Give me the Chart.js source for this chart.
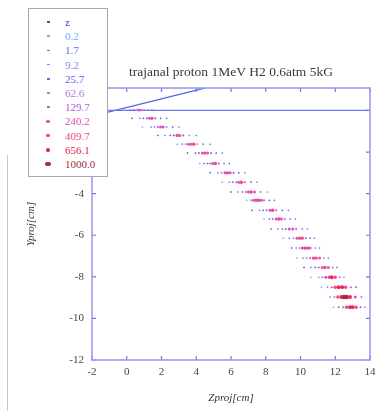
<!DOCTYPE html>
<html>
<head>
<meta charset="utf-8">
<script src="https://cdn.jsdelivr.net/npm/chart.js@4"></script>
<style>
  html, body { margin: 0; padding: 0; background: #fff; }
  #wrap { position: relative; width: 382px; height: 411px; }
  #edge { position: absolute; left: 7px; top: 155px; width: 1px; height: 256px; background: #c8c8c8; }
  #legend { position: absolute; left: 28px; top: 8px; width: 78px; height: 167px;
            border: 1.5px solid #a8a8a8; background: #fff;
            font-family: 'Liberation Serif', 'DejaVu Serif', serif; font-size: 11px; }
  .mk { position: absolute; }
  .tx { position: absolute; left: 36px; white-space: nowrap; line-height: 14px; height: 14px; }
</style>
</head>
<body>
<div id="wrap">
  <canvas id="c" width="382" height="411"></canvas>
  <div id="edge"></div>
  <div id="legend"></div>
</div>
<script>
// Energy-deposit bins (legend entries) and their colours
const binLabels = ['z', '0.2', '1.7', '9.2', '25.7', '62.6', '129.7', '240.2', '409.7', '656.1', '1000.0'];
const binColors = ['#4a4ab8', '#78a8ff', '#5a70f0', '#8a8ae8', '#7060e0', '#b478e8',
                   '#b060e0', '#e050c0', '#f04888', '#f0205a', '#a03040'];
const binRadius = [1.0, 1.0, 1.0, 1.1, 1.1, 1.2, 1.3, 1.5, 1.7, 1.9, 2.2];

// Projected track hits: one row per Y slice
const rowY = [0.02, -0.38, -0.8, -1.2, -1.62, -2.05, -2.55, -3.0, -3.45, -3.92, -4.32,
              -4.8, -5.22, -5.7, -6.14, -6.62, -7.1, -7.55, -8.02, -8.5, -8.97, -9.46];
const rowZ = [
  [-0.1, 0.2, 0.4, 0.55, 0.7, 0.85, 1.0, 1.2, 1.45],
  [0.3, 0.75, 0.95, 1.15, 1.3, 1.45, 1.65, 1.95, 2.3],
  [0.9, 1.4, 1.6, 1.8, 1.95, 2.1, 2.3, 2.65, 3.0],
  [1.8, 2.2, 2.5, 2.7, 2.9, 3.05, 3.25, 3.6, 4.0],
  [2.9, 3.2, 3.4, 3.55, 3.7, 3.85, 4.05, 4.4, 4.8],
  [3.5, 3.95, 4.15, 4.35, 4.5, 4.65, 4.85, 5.15, 5.5],
  [4.2, 4.45, 4.65, 4.8, 4.95, 5.1, 5.3, 5.6, 5.9],
  [4.8, 5.25, 5.45, 5.65, 5.8, 5.95, 6.15, 6.45, 6.8],
  [5.5, 5.9, 6.1, 6.3, 6.45, 6.6, 6.8, 7.15, 7.5],
  [6.0, 6.4, 6.65, 6.85, 7.0, 7.15, 7.35, 7.7, 8.1],
  [6.9, 7.15, 7.3, 7.45, 7.6, 7.75, 7.9, 8.2, 8.5],
  [7.2, 7.65, 7.85, 8.05, 8.25, 8.4, 8.6, 8.95, 9.3],
  [7.9, 8.2, 8.4, 8.6, 8.75, 8.9, 9.1, 9.4, 9.7],
  [8.3, 8.7, 8.95, 9.15, 9.35, 9.55, 9.75, 10.1, 10.4],
  [9.0, 9.35, 9.6, 9.8, 9.95, 10.1, 10.3, 10.55, 10.8],
  [9.5, 9.75, 9.95, 10.1, 10.25, 10.4, 10.55, 10.85, 11.1],
  [9.8, 10.15, 10.35, 10.55, 10.75, 10.9, 11.1, 11.35, 11.6],
  [10.2, 10.6, 10.85, 11.05, 11.25, 11.4, 11.6, 11.85, 12.1],
  [10.6, 11.05, 11.25, 11.45, 11.65, 11.8, 12.0, 12.25, 12.5],
  [11.2, 11.55, 11.8, 12.0, 12.2, 12.4, 12.6, 12.9, 13.2],
  [11.7, 11.95, 12.15, 12.35, 12.5, 12.65, 12.85, 13.15, 13.5],
  [11.9, 12.2, 12.45, 12.65, 12.85, 13.0, 13.2, 13.45, 13.7]
];
const rowBin = [
  [1, 2, 4, 5, 7, 6, 5, 3, 2],
  [0, 2, 4, 6, 7, 8, 6, 4, 2],
  [1, 3, 5, 6, 7, 7, 5, 4, 2],
  [0, 2, 4, 6, 8, 7, 6, 3, 2],
  [1, 3, 5, 7, 7, 8, 5, 4, 2],
  [0, 4, 6, 7, 8, 7, 6, 4, 3],
  [1, 2, 4, 6, 7, 8, 6, 5, 2],
  [0, 3, 5, 7, 8, 7, 6, 4, 2],
  [1, 2, 4, 6, 7, 8, 6, 4, 3],
  [0, 2, 4, 6, 7, 8, 7, 5, 3],
  [1, 5, 7, 8, 8, 7, 6, 4, 2],
  [0, 2, 4, 6, 7, 8, 6, 4, 3],
  [1, 4, 6, 7, 8, 7, 6, 4, 2],
  [0, 2, 4, 6, 7, 7, 6, 5, 3],
  [1, 3, 5, 7, 8, 8, 6, 4, 2],
  [0, 2, 5, 7, 8, 8, 7, 5, 3],
  [1, 3, 5, 6, 8, 8, 7, 5, 3],
  [0, 2, 4, 6, 7, 8, 7, 5, 2],
  [1, 3, 5, 7, 8, 9, 8, 5, 3],
  [1, 3, 6, 8, 9, 9, 8, 6, 4],
  [2, 5, 8, 9, 10, 10, 9, 7, 4],
  [1, 4, 6, 8, 9, 9, 8, 6, 3]
];

// Reference lines: beam axis (Y = 0) and the incoming direction
const axisLineZ = [-2, 14];
const axisLineY = [0, 0];
const beamLineZ = [-2, 4.6];
const beamLineY = [-0.27, 1.1];

const xTicks = [-2, 0, 2, 4, 6, 8, 10, 12, 14];
const yTicks = [-12, -10, -8, -6, -4, -2, 0];
const titleText = 'trajanal proton 1MeV H2 0.6atm 5kG';

const serif = "'Liberation Serif', 'DejaVu Serif', serif";
const frameColor = '#9c9cf0';
const tickColor = '#6c74e8';

// Group the hits into one dataset per bin
const hitSets = binLabels.map((label, b) => {
  const pts = [];
  rowZ.forEach((zs, r) => zs.forEach((z, i) => {
    if (rowBin[r][i] === b) pts.push({ x: z, y: rowY[r] });
  }));
  return {
    label: label,
    data: pts,
    backgroundColor: binColors[b],
    borderColor: binColors[b],
    borderWidth: 0,
    pointRadius: binRadius[b],
    pointStyle: b >= 7 ? 'circle' : 'rectRot',
    showLine: false,
    order: 20 - b
  };
});

const lineSets = [
  { label: 'axis', data: axisLineZ.map((z, i) => ({ x: z, y: axisLineY[i] })),
    showLine: true, borderColor: '#6c78ec', borderWidth: 1.3, pointRadius: 0, order: 40 },
  { label: 'beam', data: beamLineZ.map((z, i) => ({ x: z, y: beamLineY[i] })),
    showLine: true, borderColor: '#5a64e4', borderWidth: 1.3, pointRadius: 0, order: 40 }
];

// Frame with inward ticks on all four sides, and the centred title
const framePlugin = {
  id: 'frame',
  afterDatasetsDraw(chart) {
    const { ctx, chartArea: a, scales } = chart;
    ctx.save();
    ctx.strokeStyle = tickColor;
    ctx.lineWidth = 1.2;
    const tl = 4;
    ctx.beginPath();
    scales.x.ticks.forEach(t => {
      const px = scales.x.getPixelForValue(t.value);
      ctx.moveTo(px, a.bottom); ctx.lineTo(px, a.bottom - tl);
      ctx.moveTo(px, a.top); ctx.lineTo(px, a.top + tl);
    });
    scales.y.ticks.forEach(t => {
      const py = scales.y.getPixelForValue(t.value);
      ctx.moveTo(a.left, py); ctx.lineTo(a.left + tl, py);
      ctx.moveTo(a.right, py); ctx.lineTo(a.right - tl, py);
    });
    ctx.stroke();
    ctx.strokeStyle = frameColor;
    ctx.lineWidth = 1.6;
    ctx.strokeRect(a.left, a.top, a.right - a.left, a.bottom - a.top);
    ctx.restore();
  },
  afterDraw(chart) {
    const { ctx, chartArea: a } = chart;
    ctx.save();
    ctx.font = '13.5px ' + serif;
    ctx.fillStyle = '#3a3a3a';
    ctx.textAlign = 'center';
    ctx.textBaseline = 'middle';
    ctx.fillText(titleText, (a.left + a.right) / 2, 72);
    ctx.restore();
  }
};

new Chart(document.getElementById('c'), {
  type: 'scatter',
  data: { datasets: [...lineSets, ...hitSets] },
  options: {
    responsive: false,
    animation: false,
    events: [],
    layout: { padding: { left: 0, right: 12, top: 88, bottom: 0 } },
    plugins: { legend: { display: false }, tooltip: { enabled: false }, title: { display: false } },
    scales: {
      x: {
        type: 'linear', min: -2, max: 14,
        afterBuildTicks: s => { s.ticks = xTicks.map(v => ({ value: v })); },
        afterFit: s => { s.height = 51; },
        grid: { display: false, drawTicks: false },
        border: { display: false },
        ticks: { padding: 6, color: '#444', font: { family: serif, size: 11 }, maxRotation: 0 },
        title: { display: true, text: 'Zproj[cm]', color: '#333',
                 font: { family: serif, size: 11, style: 'italic' }, padding: { top: 0, bottom: 6 } }
      },
      y: {
        type: 'linear', min: -12, max: 1.08,
        afterBuildTicks: s => { s.ticks = yTicks.map(v => ({ value: v })); },
        afterFit: s => { s.width = 92; },
        grid: { display: false, drawTicks: false },
        border: { display: false },
        ticks: { padding: 8, color: '#444', font: { family: serif, size: 11 } },
        title: { display: true, text: 'Yproj[cm]', color: '#333',
                 font: { family: serif, size: 11, style: 'italic' }, padding: { top: 25, bottom: 0 } }
      }
    }
  },
  plugins: [framePlugin]
});

// Legend box built from the bin labels and colours
const legend = document.getElementById('legend');
binLabels.forEach((label, b) => {
  const cy = 13 + b * 14.2;
  const mk = document.createElement('div');
  mk.className = 'mk';
  const w = b >= 7 ? 2 * binRadius[b] + 1 : 3;
  const h = b >= 7 ? 2 * binRadius[b] : 1.5;
  mk.style.width = w + 'px';
  mk.style.height = h + 'px';
  mk.style.left = (19 - w / 2) + 'px';
  mk.style.top = (cy - h / 2) + 'px';
  mk.style.background = binColors[b];
  if (b >= 7) mk.style.borderRadius = '40%';
  legend.appendChild(mk);
  const tx = document.createElement('div');
  tx.className = 'tx';
  tx.style.top = (cy - 7) + 'px';
  tx.style.color = binColors[b];
  tx.textContent = label;
  legend.appendChild(tx);
});
</script>
</body>
</html>
